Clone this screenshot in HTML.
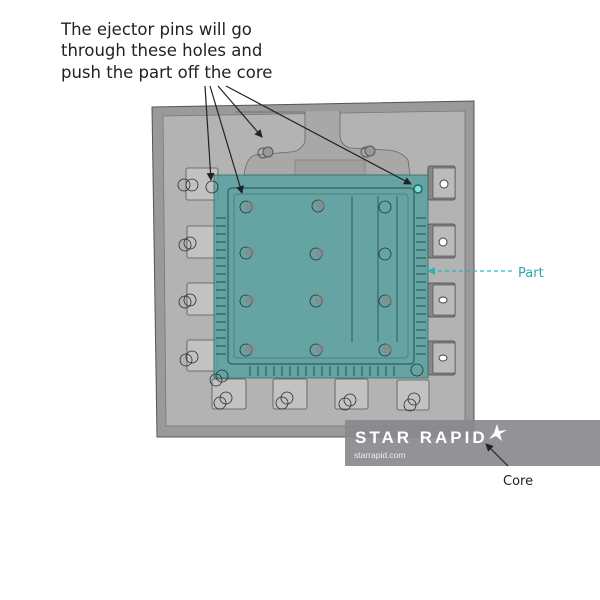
<!DOCTYPE html>
<html><head><style>
html,body{margin:0;padding:0;background:#fff;}
svg{display:block;font-family:"Liberation Sans","DejaVu Sans",sans-serif;}
</style></head><body>
<svg width="600" height="600" viewBox="0 0 600 600" xmlns="http://www.w3.org/2000/svg">
<defs>
<marker id="ah" markerWidth="8" markerHeight="8" refX="7" refY="4" orient="auto" markerUnits="userSpaceOnUse"><path d="M0,0 L8,4 L0,8 z" fill="#222"/></marker>
<marker id="ahc" markerWidth="8" markerHeight="8" refX="7" refY="4" orient="auto" markerUnits="userSpaceOnUse"><path d="M0,0 L8,4 L0,8 z" fill="#2bb3b8"/></marker>
</defs>
<polygon points="152,107 474,101 474,437 157,437" fill="#9a9a9a" stroke="#555" stroke-width="1"/>
<polygon points="163,116 465,111 465,426 166,426" fill="#b3b3b3" stroke="#777" stroke-width="0.8"/>
<path d="M235,112 L305,112 L305,142 Q300,152 290,152 L255,155 Q246,158 244,175 L410,175 L408,160 Q400,150 385,150 L350,148 Q340,145 340,135 L340,111" fill="#a8a8a8" stroke="#666" stroke-width="0.8"/>
<rect x="295" y="160" width="70" height="15" fill="#9f9f9f" stroke="#777" stroke-width="0.6"/>
<circle cx="263" cy="153" r="5" fill="none" stroke="#555"/><circle cx="268" cy="152" r="5" fill="#999" stroke="#555"/>
<circle cx="366" cy="152" r="5" fill="none" stroke="#555"/><circle cx="370" cy="151" r="5" fill="#999" stroke="#555"/>
<g fill="#c2c2c2" stroke="#555" stroke-width="0.8">
<rect x="186" y="168" width="32" height="32" rx="2"/>
<rect x="187" y="226" width="30" height="32" rx="2"/>
<rect x="187" y="283" width="30" height="32" rx="2"/>
<rect x="187" y="340" width="30" height="31" rx="2"/>
<rect x="212" y="379" width="34" height="30" rx="2"/>
<rect x="273" y="379" width="34" height="30" rx="2"/>
<rect x="335" y="379" width="33" height="30" rx="2"/>
<rect x="397" y="380" width="32" height="30" rx="2"/>
</g>
<g fill="#888" stroke="#444" stroke-width="0.8">
<rect x="428" y="166" width="27" height="34" rx="2"/>
<rect x="428" y="224" width="27" height="34" rx="2"/>
<rect x="428" y="283" width="27" height="34" rx="2"/>
<rect x="428" y="341" width="27" height="34" rx="2"/>
</g>
<g fill="#bbb" stroke="#444" stroke-width="0.6">
<rect x="433" y="168" width="22" height="30"/><rect x="433" y="226" width="22" height="30"/>
<rect x="433" y="285" width="22" height="30"/><rect x="433" y="343" width="22" height="30"/>
</g>
<g fill="#fff" stroke="#444"><circle cx="444" cy="184" r="4"/><circle cx="443" cy="242" r="4"/><ellipse cx="443" cy="300" rx="4" ry="3"/><ellipse cx="443" cy="358" rx="4" ry="3"/></g>
<rect x="214" y="175" width="214" height="203" fill="#55a0a0" fill-opacity="0.82" stroke="#2f6f6f" stroke-width="0.8"/>
<rect x="228" y="188" width="186" height="176" fill="none" stroke="#2c5f5f" stroke-width="1.2" rx="4"/>
<rect x="234" y="194" width="174" height="164" fill="none" stroke="#3e7d7d" stroke-width="0.8" rx="3"/>
<g stroke="#2c5f5f" stroke-width="1">
<line x1="352" y1="196" x2="352" y2="342"/><line x1="378" y1="196" x2="378" y2="342"/><line x1="397" y1="196" x2="397" y2="342"/>
</g>
<g stroke="#2c5f5f" stroke-width="1.2">
<path d="M216,218h10M216,226h10M216,234h10M216,242h10M216,250h10M216,258h10M216,266h10M216,274h10M216,282h10M216,290h10M216,298h10M216,306h10M216,314h10M216,322h10M216,330h10M216,338h10M216,346h10M216,354h10"/>
<path d="M416,218h10M416,226h10M416,234h10M416,242h10M416,250h10M416,258h10M416,266h10M416,274h10M416,282h10M416,290h10M416,298h10M416,306h10M416,314h10M416,322h10M416,330h10M416,338h10M416,346h10M416,354h10"/>
<path d="M250,366v10M258,366v10M266,366v10M274,366v10M282,366v10M290,366v10M298,366v10M306,366v10M314,366v10M322,366v10M330,366v10M338,366v10M346,366v10M354,366v10M362,366v10M370,366v10M378,366v10M386,366v10M394,366v10"/>
</g>
<g fill="none" stroke="#2a2a2a" stroke-width="0.8">
<circle cx="246" cy="207" r="6"/><circle cx="318" cy="206" r="6"/><circle cx="385" cy="207" r="6"/>
<circle cx="246" cy="253" r="6"/><circle cx="316" cy="254" r="6"/><circle cx="385" cy="254" r="6"/>
<circle cx="246" cy="301" r="6"/><circle cx="316" cy="301" r="6"/><circle cx="385" cy="301" r="6"/>
<circle cx="246" cy="350" r="6"/><circle cx="316" cy="350" r="6"/><circle cx="385" cy="350" r="6"/>
<circle cx="184" cy="185" r="6"/><circle cx="192" cy="185" r="6"/><circle cx="212" cy="187" r="6"/>
<circle cx="185" cy="245" r="6"/><circle cx="190" cy="243" r="6"/>
<circle cx="185" cy="302" r="6"/><circle cx="190" cy="300" r="6"/>
<circle cx="186" cy="360" r="6"/><circle cx="192" cy="357" r="6"/>
<circle cx="216" cy="380" r="6"/><circle cx="222" cy="376" r="6"/>
<circle cx="220" cy="403" r="6"/><circle cx="226" cy="398" r="6"/>
<circle cx="282" cy="403" r="6"/><circle cx="287" cy="398" r="6"/>
<circle cx="345" cy="404" r="6"/><circle cx="350" cy="400" r="6"/>
<circle cx="410" cy="405" r="6"/><circle cx="414" cy="399" r="6"/>
<circle cx="417" cy="370" r="6"/>
</g>
<g fill="#888" fill-opacity="0.6"><circle cx="250" cy="206" r="5"/><circle cx="320" cy="205" r="5"/><circle cx="250" cy="252" r="5"/><circle cx="320" cy="253" r="5"/><circle cx="250" cy="300" r="5"/><circle cx="320" cy="300" r="5"/><circle cx="250" cy="349" r="5"/><circle cx="320" cy="349" r="5"/><circle cx="387" cy="300" r="5"/><circle cx="387" cy="349" r="5"/></g>
<circle cx="418" cy="189" r="4" fill="#7fe0e0" stroke="#1a6b6b" stroke-width="1.5"/>
<rect x="345" y="420" width="255" height="46" fill="#8a8a8e" fill-opacity="0.92"/>
<text x="355" y="443" font-size="17" fill="#fff" font-weight="bold" letter-spacing="3">STAR RAPID</text>
<path d="M497,424 L499,431 L507,430 L500,434 L502,441 L496,436 L489,439 L494,433 Z" fill="#fff"/>
<text x="354" y="458" font-size="8.5" fill="#eee">starrapid.com</text>
<g stroke="#222" stroke-width="1.2" fill="none">
<line x1="205" y1="86" x2="211" y2="180" marker-end="url(#ah)"/>
<line x1="210" y1="86" x2="242" y2="193" marker-end="url(#ah)"/>
<line x1="218" y1="86" x2="262" y2="137" marker-end="url(#ah)"/>
<line x1="226" y1="86" x2="411" y2="184" marker-end="url(#ah)"/>
<line x1="508" y1="466" x2="486" y2="444" marker-end="url(#ah)"/>
</g>
<line x1="512" y1="271" x2="428" y2="271" stroke="#2bb3b8" stroke-width="1.2" stroke-dasharray="4,3" marker-end="url(#ahc)"/>
<g font-size="16.5" fill="#222" font-family="'DejaVu Sans',sans-serif">
<text x="61" y="35">The ejector pins will go</text>
<text x="61" y="56">through these holes and</text>
<text x="61" y="78">push the part off the core</text>
</g>
<text x="518" y="277" font-size="13" fill="#2aa9b0" font-family="'DejaVu Sans',sans-serif">Part</text>
<text x="503" y="485" font-size="13" fill="#222" font-family="'DejaVu Sans',sans-serif">Core</text>
</svg>
</body></html>
